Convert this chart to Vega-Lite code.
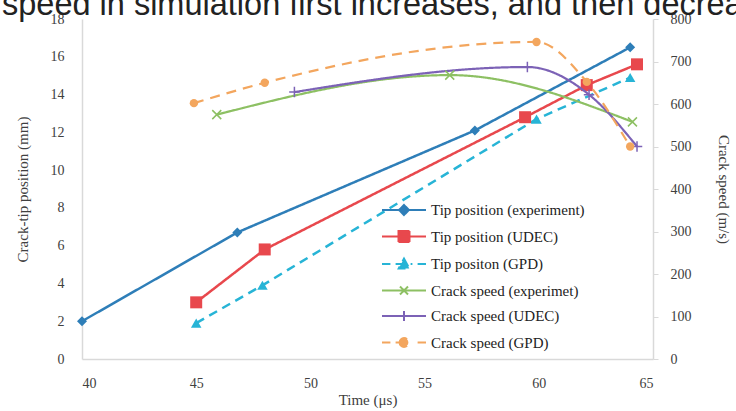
{
  "$schema": "https://vega.github.io/schema/vega-lite/v6.json",
  "width": 571,
  "height": 340,
  "autosize": {"type": "none"},
  "padding": {"left": 82, "top": 19, "right": 83, "bottom": 52},
  "background": "white",
  "title": {
    "text": "speed in simulation first increases, and then decreases",
    "font": "Liberation Sans",
    "fontSize": 32.5,
    "fontWeight": "normal",
    "color": "#222222",
    "anchor": "start",
    "frame": "group",
    "baseline": "alphabetic",
    "dx": -80,
    "dy": 35,
    "offset": 0
  },
  "config": {
    "view": {"stroke": null},
    "font": "Liberation Serif",
    "axis": {
      "grid": false,
      "domainColor": "#d9d9d9",
      "domainWidth": 1.5,
      "labelFont": "Liberation Serif",
      "labelFontSize": 14,
      "labelColor": "#404040",
      "titleFont": "Liberation Serif",
      "titleFontSize": 15,
      "titleFontWeight": "normal",
      "titleColor": "#404040"
    },
    "legend": {
      "title": null,
      "orient": "none",
      "legendX": 311,
      "legendY": 180,
      "direction": "vertical",
      "symbolSize": 400,
      "symbolStrokeWidth": 2,
      "symbolOpacity": 1,
      "labelFont": "Liberation Serif",
      "labelFontSize": 15,
      "labelColor": "#222222",
      "labelOffset": 16,
      "rowPadding": 6.5,
      "padding": 0
    }
  },
  "datasets": {
    "tip": [
      {"series": "Tip position (experiment)", "time": 40.0, "position": 2.0},
      {"series": "Tip position (experiment)", "time": 46.8, "position": 6.7},
      {"series": "Tip position (experiment)", "time": 57.2, "position": 12.1},
      {"series": "Tip position (experiment)", "time": 64.0, "position": 16.5},
      {"series": "Tip position (UDEC)", "time": 45.0, "position": 3.0},
      {"series": "Tip position (UDEC)", "time": 48.0, "position": 5.8},
      {"series": "Tip position (UDEC)", "time": 59.4, "position": 12.8},
      {"series": "Tip position (UDEC)", "time": 62.1, "position": 14.5},
      {"series": "Tip position (UDEC)", "time": 64.3, "position": 15.6},
      {"series": "Tip positon (GPD)", "time": 45.0, "position": 1.9},
      {"series": "Tip positon (GPD)", "time": 47.9, "position": 3.9},
      {"series": "Tip positon (GPD)", "time": 59.9, "position": 12.7},
      {"series": "Tip positon (GPD)", "time": 64.0, "position": 14.9}
    ],
    "speed": [
      {"series": "Crack speed (experimet)", "time": 45.9, "speed": 575},
      {"series": "Crack speed (experimet)", "time": 56.1, "speed": 668},
      {"series": "Crack speed (experimet)", "time": 64.1, "speed": 558},
      {"series": "Crack speed (UDEC)", "time": 49.3, "speed": 628},
      {"series": "Crack speed (UDEC)", "time": 59.5, "speed": 687},
      {"series": "Crack speed (UDEC)", "time": 62.2, "speed": 622},
      {"series": "Crack speed (UDEC)", "time": 64.3, "speed": 500},
      {"series": "Crack speed (GPD)", "time": 44.9, "speed": 602},
      {"series": "Crack speed (GPD)", "time": 48.0, "speed": 650},
      {"series": "Crack speed (GPD)", "time": 59.9, "speed": 746},
      {"series": "Crack speed (GPD)", "time": 62.1, "speed": 652},
      {"series": "Crack speed (GPD)", "time": 64.0, "speed": 500}
    ]
  },
  "encoding": {
    "x": {
      "field": "time",
      "type": "quantitative",
      "scale": {"domain": [40, 65], "nice": false},
      "axis": {
        "title": "Time (μs)",
        "values": [40, 45, 50, 55, 60, 65],
        "ticks": false,
        "labelPadding": 17,
        "titlePadding": 2
      }
    },
    "color": {
      "field": "series",
      "type": "nominal",
      "scale": {
        "domain": ["Tip position (experiment)", "Tip position (UDEC)", "Tip positon (GPD)", "Crack speed (experimet)", "Crack speed (UDEC)", "Crack speed (GPD)"],
        "range": ["#2e7eb8", "#e8484d", "#27b4d6", "#8dc063", "#7c62b6", "#f3a65e"]
      },
      "legend": {"title": null}
    }
  },
  "layer": [
    {
      "data": {"name": "tip"},
      "encoding": {
        "y": {
          "field": "position",
          "type": "quantitative",
          "scale": {"domain": [0, 18], "nice": false},
          "axis": {
            "title": "Crack-tip position (mm)",
            "values": [0, 2, 4, 6, 8, 10, 12, 14, 16, 18],
            "ticks": false,
            "labelPadding": 18,
            "titlePadding": 20
          }
        }
      },
      "layer": [
        {
          "mark": {"type": "line", "strokeWidth": 2.5, "interpolate": "linear"},
          "encoding": {
            "strokeDash": {
              "field": "series",
              "type": "nominal",
              "scale": {
                "domain": ["Tip position (experiment)", "Tip position (UDEC)", "Tip positon (GPD)", "Crack speed (experimet)", "Crack speed (UDEC)", "Crack speed (GPD)"],
                "range": [[1, 0], [1, 0], [9, 6], [1, 0], [1, 0], [10, 7]]
              },
              "legend": null
            }
          }
        },
        {
          "transform": [{"filter": "datum.series === 'Tip position (experiment)'"}],
          "mark": {"type": "point", "shape": "diamond", "size": 100, "filled": true, "opacity": 1}
        },
        {
          "transform": [{"filter": "datum.series === 'Tip position (UDEC)'"}],
          "mark": {"type": "point", "shape": "square", "size": 144, "filled": true, "opacity": 1}
        },
        {
          "transform": [{"filter": "datum.series === 'Tip positon (GPD)'"}],
          "mark": {"type": "point", "shape": "triangle-up", "size": 110, "filled": true, "opacity": 1}
        },
        {
          "transform": [{"filter": "false"}],
          "mark": {"type": "point", "filled": true, "opacity": 1, "strokeWidth": 2},
          "encoding": {
            "shape": {
              "field": "series",
              "type": "nominal",
              "scale": {
                "domain": ["Tip position (experiment)", "Tip position (UDEC)", "Tip positon (GPD)", "Crack speed (experimet)", "Crack speed (UDEC)", "Crack speed (GPD)"],
                "range": [
                  "M-2.2,0H2.2M-0.5,0L0,-0.5L0.5,0L0,0.5Z",
                  "M-2.2,0H2.2M-0.55,-0.55H0.55V0.55H-0.55Z",
                  "M-2.2,0H-1.36M-0.84,0H0.84M1.36,0H2.2M0,-0.55L0.53,0.44L-0.53,0.44Z",
                  "M-2.2,0H2.2M-0.4,-0.4L0.4,0.4M-0.4,0.4L0.4,-0.4",
                  "M-2.2,0H2.2M0,-0.5V0.5",
                  "M-2.2,0H-1.36M-0.84,0H0.84M1.36,0H2.2M-0.44,0A0.44,0.44 0 1,0 0.44,0A0.44,0.44 0 1,0 -0.44,0Z"
                ]
              },
              "legend": {"title": null}
            },
            "stroke": {
              "field": "series",
              "type": "nominal",
              "scale": {
                "domain": ["Tip position (experiment)", "Tip position (UDEC)", "Tip positon (GPD)", "Crack speed (experimet)", "Crack speed (UDEC)", "Crack speed (GPD)"],
                "range": ["#2e7eb8", "#e8484d", "#27b4d6", "#8dc063", "#7c62b6", "#f3a65e"]
              },
              "legend": {"title": null}
            }
          }
        }
      ]
    },
    {
      "data": {"name": "speed"},
      "encoding": {
        "y": {
          "field": "speed",
          "type": "quantitative",
          "scale": {"domain": [0, 800], "nice": false},
          "axis": {
            "orient": "right",
            "title": "Crack speed (m/s)",
            "values": [0, 100, 200, 300, 400, 500, 600, 700, 800],
            "ticks": true,
            "tickSize": 5,
            "tickColor": "#d9d9d9",
            "labelPadding": 12,
            "titlePadding": 24
          }
        }
      },
      "layer": [
        {
          "mark": {"type": "line", "strokeWidth": 2.2, "interpolate": "monotone"},
          "encoding": {
            "strokeDash": {
              "field": "series",
              "type": "nominal",
              "scale": {
                "domain": ["Tip position (experiment)", "Tip position (UDEC)", "Tip positon (GPD)", "Crack speed (experimet)", "Crack speed (UDEC)", "Crack speed (GPD)"],
                "range": [[1, 0], [1, 0], [9, 6], [1, 0], [1, 0], [10, 7]]
              },
              "legend": null
            }
          }
        },
        {
          "transform": [{"filter": "datum.series === 'Crack speed (experimet)'"}],
          "mark": {"type": "point", "shape": "M-1,-1L1,1M-1,1L1,-1", "size": 81, "filled": false, "opacity": 1, "strokeWidth": 1.5}
        },
        {
          "transform": [{"filter": "datum.series === 'Crack speed (UDEC)'"}],
          "mark": {"type": "point", "shape": "M-1,0H1M0,-1V1", "size": 110, "filled": false, "opacity": 1, "strokeWidth": 1.5}
        },
        {
          "transform": [{"filter": "datum.series === 'Crack speed (GPD)'"}],
          "mark": {"type": "point", "shape": "circle", "size": 70, "filled": true, "opacity": 1}
        }
      ]
    }
  ],
  "resolve": {"scale": {"y": "independent"}}
}
